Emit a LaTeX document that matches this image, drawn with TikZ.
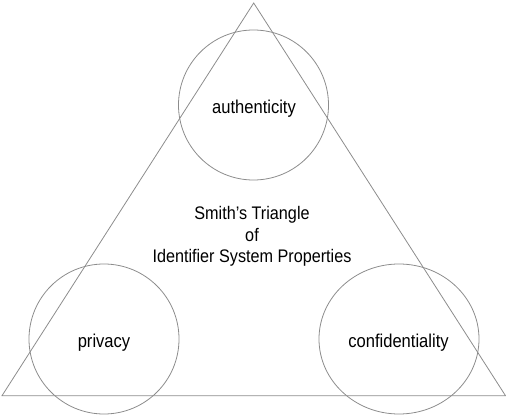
\documentclass[tikz,border=0pt]{standalone}
\usepackage{fontspec}
\setmainfont{Liberation Sans}[FakeStretch=0.89]
\usetikzlibrary{shapes.geometric}
\definecolor{edgegray}{gray}{0.55}

\begin{document}
\begin{tikzpicture}[x=1pt, y=1pt, every node/.style={inner sep=0pt},
    ring/.style={draw=edgegray, line width=0.8pt, circle, minimum size=150pt},
    prop/.style={font=\fontsize{18.6}{22}\selectfont, anchor=base}]

    \useasboundingbox (0,0) rectangle (506,416);

    % the triangle
    \coordinate (apex) at (253.7,413);
    \coordinate (left) at (2,20.3);
    \coordinate (right) at (505.5,20.3);
    \draw[edgegray, line width=0.8pt] (apex) -- (left) -- (right) -- cycle;

    % one ring per corner
    \node[ring] (top ring) at (253.5,311) {};
    \node[ring] (left ring) at (104,77) {};
    \node[ring, ellipse, minimum width=160pt, minimum height=150pt] (right ring) at (399,77) {};

    \node[prop] (authenticity) at (254,302.7) {authenticity};
    \node[prop] (privacy) at (104,68.3) {privacy};
    \node[prop] (confidentiality) at (398.5,68.3) {confidentiality};

    \node[align=center, font=\fontsize{18.2}{21.5}\selectfont] (title) at (252,179.3)
        {Smith’s Triangle \\ of \\ Identifier System Properties};
\end{tikzpicture}
\end{document}
